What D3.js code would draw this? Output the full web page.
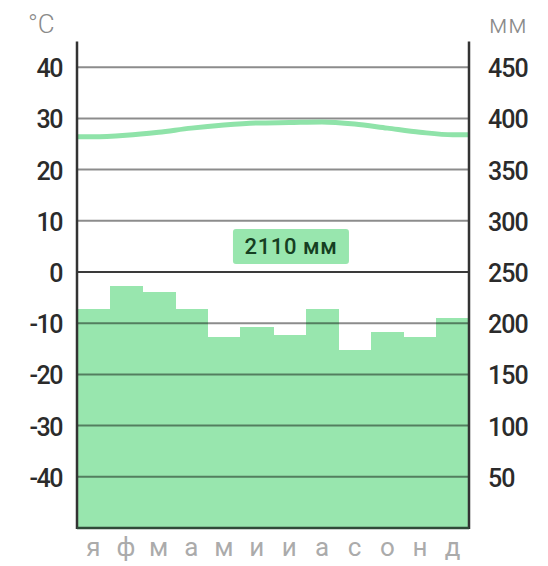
<!DOCTYPE html>
<html>
<head>
<meta charset="utf-8">
<script src="https://cdn.jsdelivr.net/npm/d3@7"></script>
<style>
  html, body { margin: 0; padding: 0; background: #fff; }
  svg { display: block; }
  text { font-family: Roboto, "Noto Sans", sans-serif; }
</style>
</head>
<body>
<svg id="chart" width="548" height="566"></svg>
<script>
// ---- data ----
const months = ["я", "ф", "м", "а", "м", "и", "и", "а", "с", "о", "н", "д"];
const temperature = [26.4, 26.7, 27.3, 28.1, 28.7, 29.1, 29.2, 29.3, 28.9, 28.1, 27.3, 26.8];
const precipitation = [214, 236, 230, 214, 187, 196, 188, 214, 174, 191, 187, 205];
const tempTicks = [40, 30, 20, 10, 0, -10, -20, -30, -40];
const precTicks = [450, 400, 350, 300, 250, 200, 150, 100, 50];
const tempUnit = "°C";
const precUnit = "мм";
const totalLabel = "2110 мм";

// ---- layout ----
const plotL = 77, plotR = 469, plotT = 41.6, plotB = 528;
const svg = d3.select("#chart");

const x = d3.scaleBand().domain(d3.range(months.length)).range([plotL, plotR]).padding(0);
const xi = d3.scaleLinear().domain([0, months.length]).range([plotL, plotR]);
const yT = d3.scaleLinear().domain([-50, 45]).range([plotB, plotT]);
const yP = d3.scaleLinear().domain([0, 475]).range([plotB, plotT]);

// bars
svg.append("g").selectAll("rect").data(precipitation).join("rect")
  .attr("x", (d, i) => x(i))
  .attr("width", x.bandwidth() + 0.6)
  .attr("y", d => yP(d))
  .attr("height", d => plotB - yP(d))
  .attr("fill", "#98e6ae")
  .attr("shape-rendering", "crispEdges");

// gridlines
svg.append("g").selectAll("line").data(tempTicks).join("line")
  .attr("x1", plotL).attr("x2", plotR)
  .attr("y1", d => yT(d)).attr("y2", d => yT(d))
  .attr("stroke", d => d === 0 ? "#3a3a3a" : "#000")
  .attr("stroke-opacity", d => d === 0 ? 1 : 0.45)
  .attr("stroke-width", 2);

// temperature line
const pts = [[0, temperature[0]]]
  .concat(temperature.map((t, i) => [i + 0.5, t]))
  .concat([[months.length, temperature[temperature.length - 1]]]);
svg.append("path")
  .attr("d", d3.line().x(d => xi(d[0])).y(d => yT(d[1])).curve(d3.curveMonotoneX)(pts))
  .attr("fill", "none")
  .attr("stroke", "#8fe3a9")
  .attr("stroke-width", 5)
  .attr("stroke-linecap", "butt");

// frame: left, right axis lines and bottom
svg.append("line").attr("x1", plotL).attr("x2", plotL).attr("y1", plotT).attr("y2", plotB + 1)
  .attr("stroke", "#333").attr("stroke-width", 2.5);
svg.append("line").attr("x1", plotR).attr("x2", plotR).attr("y1", plotT).attr("y2", plotB + 1)
  .attr("stroke", "#333").attr("stroke-width", 2.5);
svg.append("line").attr("x1", plotL).attr("x2", plotR).attr("y1", plotB).attr("y2", plotB)
  .attr("stroke", "#2f4a38").attr("stroke-width", 2.5);

// left axis labels
const leftAxis = d3.axisLeft(yT).tickValues(tempTicks).tickSize(0).tickPadding(15)
  .tickFormat(d => String(d));
const gl = svg.append("g").attr("transform", `translate(${plotL},0)`).call(leftAxis);
gl.select(".domain").remove();
gl.selectAll("text").attr("font-size", 25).attr("font-weight", 500).attr("fill", "#2b2b2b")
  .attr("letter-spacing", -1.5).attr("dy", "0.38em");

// right axis labels
const rightAxis = d3.axisRight(yP).tickValues(precTicks).tickSize(0).tickPadding(19)
  .tickFormat(d => String(d));
const gr = svg.append("g").attr("transform", `translate(${plotR},0)`).call(rightAxis);
gr.select(".domain").remove();
gr.selectAll("text").attr("font-size", 25).attr("font-weight", 500).attr("fill", "#2b2b2b")
  .attr("letter-spacing", -1).attr("dy", "0.38em");

// units
svg.append("text").attr("x", 28).attr("y", 33).text(tempUnit)
  .attr("font-size", 26).attr("font-weight", 300).attr("fill", "#8a8a8a");
svg.append("text").attr("x", 489).attr("y", 33).text(precUnit)
  .attr("font-size", 25).attr("font-weight", 300).attr("letter-spacing", 1).attr("fill", "#8a8a8a");

// month labels
svg.append("g").selectAll("text").data(months).join("text")
  .attr("x", (d, i) => x(i) + x.bandwidth() / 2)
  .attr("y", 556)
  .attr("text-anchor", "middle")
  .attr("font-size", 26)
  .attr("fill", "#ababab")
  .text(d => d);

// total label
const cx = xi(6.55), cy = yT(5);
const lab = svg.append("g");
lab.append("rect").attr("x", cx - 58).attr("y", cy - 17.5).attr("width", 116).attr("height", 35)
  .attr("rx", 3).attr("fill", "#98e6ae");
lab.append("text").attr("x", cx).attr("y", cy).attr("dy", "0.36em")
  .attr("text-anchor", "middle").attr("font-size", 22).attr("font-weight", 500)
  .attr("letter-spacing", 0.6)
  .attr("fill", "#163f22").text(totalLabel);
</script>
</body>
</html>
